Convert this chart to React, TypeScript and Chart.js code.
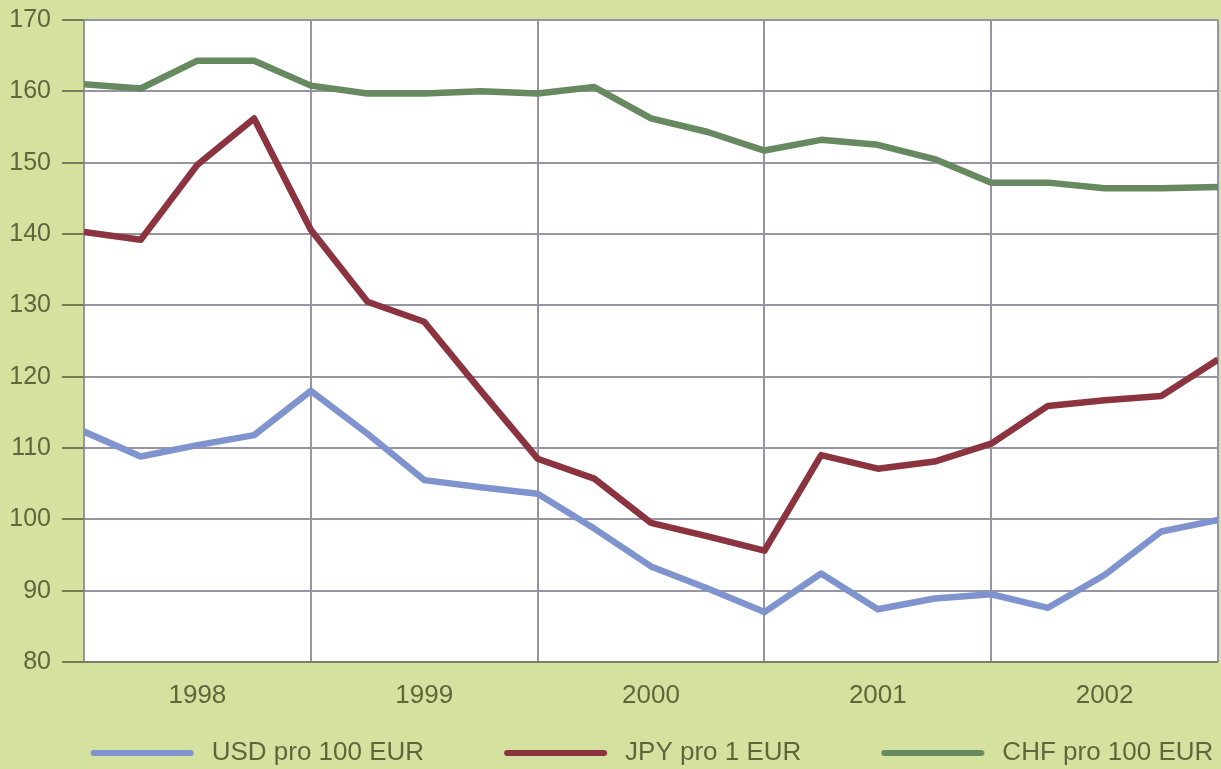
import React, { useEffect, useRef } from 'react';
import { Chart, registerables } from 'chart.js';

Chart.register(...registerables);

// Quarterly exchange rates, 1998 – start of 2003 (21 quarter points, x = quarter index)
const years = ['1998', '1999', '2000', '2001', '2002'];
const QUARTERS_PER_YEAR = 4;

const usdPer100Eur = [
  112.3, 108.8, 110.4, 111.8, 118.0, 112.0, 105.5, 104.5, 103.6, 98.7, 93.4,
  90.3, 87.0, 92.4, 87.4, 88.9, 89.5, 87.6, 92.2, 98.3, 99.9,
];
const jpyPer1Eur = [
  140.3, 139.2, 149.7, 156.2, 140.6, 130.5, 127.7, 118.0, 108.5, 105.7, 99.5,
  97.6, 95.6, 109.0, 107.1, 108.1, 110.6, 115.9, 116.7, 117.3, 122.4,
];
const chfPer100Eur = [
  161.0, 160.4, 164.3, 164.3, 160.8, 159.7, 159.7, 160.0, 159.7, 160.6, 156.2,
  154.3, 151.7, 153.2, 152.5, 150.5, 147.2, 147.2, 146.4, 146.4, 146.6,
];

const seriesLabels = ['USD pro 100 EUR', 'JPY pro 1 EUR', 'CHF pro 100 EUR'];
const seriesValues = [usdPer100Eur, jpyPer1Eur, chfPer100Eur];

const Y_MIN = 80;
const Y_MAX = 170;
const Y_STEP = 10;

const PAGE_BG = '#d5e29f';
const TEXT = '#5f663c';
const GRID = '#9795a4';
const BASE_LINE = '#7b7e63';
const TICK_MARK = '#767a58';
const COLORS = ['#7f94cf', '#8b3440', '#66895f'];
const FONT = '"Liberation Sans", Arial, Helvetica, sans-serif';

// Legend swatch: a blank lead-in (spacing between items) followed by a thick rounded line
const SWATCH_LEAD = 78;
const SWATCH_LINE = 103;
const SWATCH_WIDTH = SWATCH_LEAD + SWATCH_LINE + 5;
function lineSwatch(color: string): HTMLCanvasElement {
  const c = document.createElement('canvas');
  c.width = SWATCH_WIDTH;
  c.height = 12;
  const g = c.getContext('2d')!;
  g.strokeStyle = color;
  g.lineWidth = 6;
  g.lineCap = 'round';
  g.beginPath();
  g.moveTo(SWATCH_LEAD + 3, 6);
  g.lineTo(SWATCH_LEAD + SWATCH_LINE - 3, 6);
  g.stroke();
  return c;
}

const backgrounds = {
  id: 'backgrounds',
  beforeDraw(chart: Chart) {
    const { ctx, chartArea: a, width, height } = chart;
    ctx.save();
    ctx.fillStyle = PAGE_BG;
    ctx.fillRect(0, 0, width, height);
    ctx.fillStyle = '#ffffff';
    ctx.fillRect(a.left, a.top, a.right - a.left, a.bottom - a.top);
    ctx.restore();
  },
};

export default function App() {
  const canvasRef = useRef<HTMLCanvasElement | null>(null);

  useEffect(() => {
    const canvas = canvasRef.current;
    if (!canvas) return;
    const swatches = COLORS.map(lineSwatch);
    const lastQuarter = years.length * QUARTERS_PER_YEAR;

    const chart = new Chart(canvas, {
      type: 'line',
      data: {
        datasets: seriesLabels.map((label, i) => ({
          label,
          data: seriesValues[i].map((y, x) => ({ x, y })),
          borderColor: COLORS[i],
          backgroundColor: COLORS[i],
          borderWidth: 6.5,
          borderJoinStyle: 'round' as const,
          pointRadius: 0,
          tension: 0,
          fill: false,
        })),
      },
      options: {
        animation: false,
        responsive: false,
        devicePixelRatio: 1,
        layout: { padding: { left: 8, right: 3, top: 20, bottom: 4 } },
        plugins: {
          tooltip: { enabled: false },
          legend: {
            position: 'bottom',
            align: 'center',
            labels: {
              usePointStyle: true,
              pointStyleWidth: SWATCH_WIDTH,
              padding: 2,
              color: TEXT,
              font: { family: FONT, size: 26 },
              generateLabels: (c: Chart) =>
                c.data.datasets.map((ds, i) => ({
                  text: ds.label as string,
                  datasetIndex: i,
                  pointStyle: swatches[i],
                  fillStyle: COLORS[i],
                  strokeStyle: COLORS[i],
                  lineWidth: 0,
                  hidden: false,
                  fontColor: TEXT,
                })),
            },
          },
        },
        scales: {
          x: {
            type: 'linear',
            min: 0,
            max: lastQuarter,
            border: { display: false },
            grid: {
              color: (ctx: any) =>
                ctx.tick && ctx.tick.value % QUARTERS_PER_YEAR === 0 ? GRID : 'rgba(0,0,0,0)',
              lineWidth: 2,
              drawTicks: false,
            },
            ticks: {
              stepSize: QUARTERS_PER_YEAR / 2,
              autoSkip: false,
              maxRotation: 0,
              padding: 18,
              color: TEXT,
              font: { family: FONT, size: 26 },
              callback: (v: any) => {
                const n = Number(v);
                return n % QUARTERS_PER_YEAR === QUARTERS_PER_YEAR / 2
                  ? years[(n - QUARTERS_PER_YEAR / 2) / QUARTERS_PER_YEAR]
                  : '';
              },
            },
            afterFit: (s: any) => {
              s.height = 76;
              s.paddingLeft = 0;
              s.paddingRight = 0;
            },
          },
          y: {
            min: Y_MIN,
            max: Y_MAX,
            border: { display: false },
            grid: {
              color: (ctx: any) => (ctx.tick && ctx.tick.value === Y_MIN ? BASE_LINE : GRID),
              lineWidth: 2,
              tickLength: 22,
              tickColor: TICK_MARK,
              tickWidth: 2,
            },
            ticks: {
              stepSize: Y_STEP,
              padding: 11,
              color: TEXT,
              font: { family: FONT, size: 25 },
            },
            afterFit: (s: any) => {
              s.width = 76;
              s.paddingTop = 0;
              s.paddingBottom = 0;
            },
          },
        },
      },
      plugins: [backgrounds],
    });

    return () => chart.destroy();
  }, []);

  return (
    <canvas
      ref={canvasRef}
      width={1221}
      height={780}
      style={{ position: 'fixed', left: 0, top: 0, display: 'block' }}
    />
  );
}
